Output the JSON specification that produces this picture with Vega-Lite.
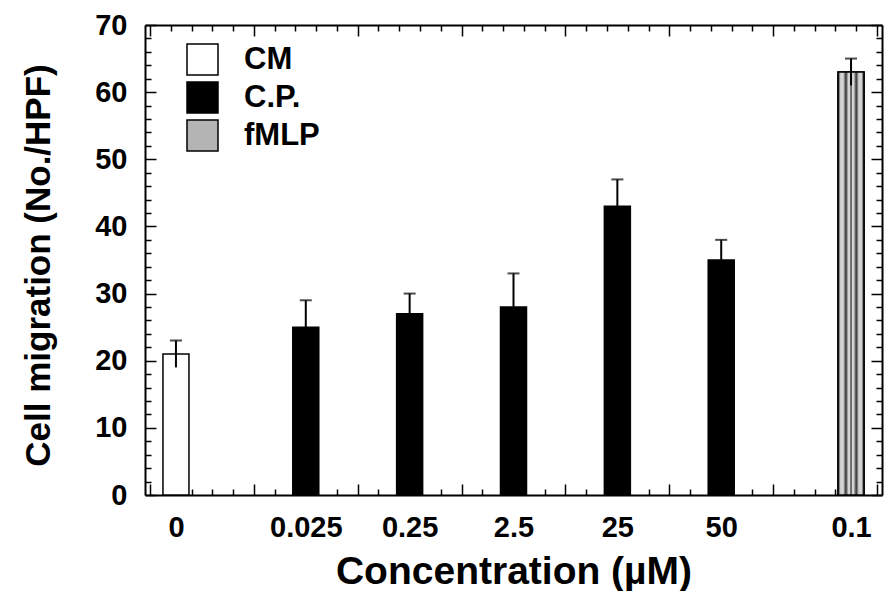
{
  "$schema": "https://vega.github.io/schema/vega-lite/v6.json",
  "width": 737,
  "height": 470,
  "autosize": {"type": "none"},
  "padding": {"left": 145, "top": 25, "right": 4, "bottom": 96},
  "background": "white",
  "config": {"view": {"stroke": null}, "font": "Liberation Sans"},
  "data": {
    "values": [
      {"conc": "0", "pos": 0.25, "group": "CM", "value": 21, "lo": 19, "hi": 23},
      {"conc": "0.025", "pos": 1.5, "group": "C.P.", "value": 25, "lo": 21, "hi": 29},
      {"conc": "0.25", "pos": 2.5, "group": "C.P.", "value": 27, "lo": 24, "hi": 30},
      {"conc": "2.5", "pos": 3.5, "group": "C.P.", "value": 28, "lo": 23, "hi": 33},
      {"conc": "25", "pos": 4.5, "group": "C.P.", "value": 43, "lo": 39, "hi": 47},
      {"conc": "50", "pos": 5.5, "group": "C.P.", "value": 35, "lo": 32, "hi": 38},
      {"conc": "0.1", "pos": 6.75, "group": "fMLP", "value": 63, "lo": 61, "hi": 65}
    ]
  },
  "layer": [
    {
      "mark": {"type": "bar", "orient": "vertical", "width": 26, "stroke": "black", "strokeWidth": 1.5},
      "encoding": {
        "x": {
          "field": "pos", "type": "quantitative",
          "scale": {"domain": [0, 7], "nice": false, "zero": false},
          "axis": {
            "orient": "bottom",
            "values": [0,0.2,0.4,0.6,0.8,1,1.2,1.4,1.6,1.8,2,2.2,2.4,2.6,2.8,3,3.2,3.4,3.6,3.8,4,4.2,4.4,4.6,4.8,5,5.2,5.4,5.6,5.8,6,6.2,6.4,6.6,6.8,7,0.25,1.5,2.5,3.5,4.5,5.5,6.75],
            "labelExpr": "datum.value === 0.25 ? '0' : datum.value === 1.5 ? '0.025' : datum.value === 2.5 ? '0.25' : datum.value === 3.5 ? '2.5' : datum.value === 4.5 ? '25' : datum.value === 5.5 ? '50' : datum.value === 6.75 ? '0.1' : ''",
            "tickSize": {"condition": [{"test": "datum.value % 1 === 0", "value": -11}, {"test": "datum.value === 0.25 || datum.value === 6.75 || datum.value % 1 === 0.5", "value": 0}], "value": -6},
            "tickWidth": 1.5, "tickColor": "black",
            "domainColor": "black", "domainWidth": 2,
            "labelFont": "Liberation Sans", "labelFontSize": 29, "labelFontWeight": "bold", "labelColor": "black",
            "labelPadding": 18, "labelOverlap": false, "labelFlush": false, "labelBound": false,
            "title": "Concentration (µM)", "titleFont": "Liberation Sans", "titleFontSize": 39, "titleFontWeight": "bold", "titleColor": "black", "titlePadding": 10,
            "grid": false
          }
        },
        "y": {
          "field": "value", "type": "quantitative",
          "scale": {"domain": [0, 70], "nice": false},
          "axis": {
            "orient": "left",
            "values": [0,2,4,6,8,10,12,14,16,18,20,22,24,26,28,30,32,34,36,38,40,42,44,46,48,50,52,54,56,58,60,62,64,66,68,70],
            "labelExpr": "datum.value % 10 === 0 ? datum.label : ''",
            "tickSize": {"condition": {"test": "datum.value % 10 === 0", "value": -11}, "value": -6},
            "tickWidth": 1.5, "tickColor": "black",
            "domainColor": "black", "domainWidth": 2,
            "labelFont": "Liberation Sans", "labelFontSize": 29, "labelFontWeight": "bold", "labelColor": "black",
            "labelPadding": 29, "labelOverlap": false, "labelFlush": false, "labelBound": false,
            "title": "Cell migration (No./HPF)", "titleFont": "Liberation Sans", "titleFontSize": 35, "titleFontWeight": "bold", "titleColor": "black",
            "titleX": -89, "titleY": 240,
            "grid": false
          }
        },
        "fill": {
          "field": "group", "type": "nominal",
          "scale": {"domain": ["CM", "C.P.", "fMLP"], "range": ["white", "black", "#b4b4b4"]},
          "legend": {
            "title": null, "orient": "none", "legendX": 41, "legendY": 18,
            "symbolType": "square", "symbolSize": 961, "symbolStrokeColor": "black", "symbolStrokeWidth": 1.5,
            "labelFont": "Liberation Sans", "labelFontSize": 31, "labelFontWeight": "bold", "labelColor": "black",
            "rowPadding": 1, "labelOffset": 25, "symbolOffset": 0, "padding": 0
          }
        }
      }
    },
    {
      "transform": [{"filter": "datum.group === 'fMLP'"}],
      "mark": {
        "type": "bar", "orient": "vertical", "width": 26, "stroke": "black", "strokeWidth": 1.5,
        "fill": {
          "gradient": "linear", "x1": 0, "y1": 0, "x2": 1, "y2": 0,
          "stops": [
            {"offset": 0, "color": "#222222"},
            {"offset": 0.1, "color": "#d4d4d4"},
            {"offset": 0.2, "color": "#d4d4d4"},
            {"offset": 0.3, "color": "#333333"},
            {"offset": 0.4, "color": "#d4d4d4"},
            {"offset": 0.45, "color": "#d4d4d4"},
            {"offset": 0.5, "color": "#333333"},
            {"offset": 0.55, "color": "#d4d4d4"},
            {"offset": 0.6, "color": "#d4d4d4"},
            {"offset": 0.7, "color": "#333333"},
            {"offset": 0.8, "color": "#d4d4d4"},
            {"offset": 0.9, "color": "#d4d4d4"},
            {"offset": 1, "color": "#222222"}
          ]
        }
      },
      "encoding": {
        "x": {
          "field": "pos", "type": "quantitative",
          "axis": {
            "orient": "top",
            "values": [0,0.2,0.4,0.6,0.8,1,1.2,1.4,1.6,1.8,2,2.2,2.4,2.6,2.8,3,3.2,3.4,3.6,3.8,4,4.2,4.4,4.6,4.8,5,5.2,5.4,5.6,5.8,6,6.2,6.4,6.6,6.8,7],
            "labels": false,
            "tickSize": {"condition": {"test": "datum.value % 1 === 0", "value": -11}, "value": -6},
            "tickWidth": 1.5, "tickColor": "black",
            "domainColor": "black", "domainWidth": 2,
            "title": null, "grid": false
          }
        },
        "y": {
          "field": "value", "type": "quantitative",
          "axis": {
            "orient": "right",
            "values": [0,2,4,6,8,10,12,14,16,18,20,22,24,26,28,30,32,34,36,38,40,42,44,46,48,50,52,54,56,58,60,62,64,66,68,70],
            "labels": false,
            "tickSize": {"condition": {"test": "datum.value % 10 === 0", "value": -11}, "value": -6},
            "tickWidth": 1.5, "tickColor": "black",
            "domainColor": "black", "domainWidth": 2,
            "title": null, "grid": false
          }
        }
      }
    },
    {
      "mark": {"type": "rule", "strokeWidth": 2, "color": "black"},
      "encoding": {
        "x": {"field": "pos", "type": "quantitative", "axis": null},
        "y": {"field": "lo", "type": "quantitative", "axis": null},
        "y2": {"field": "hi"}
      }
    },
    {
      "mark": {"type": "tick", "orient": "horizontal", "size": 12, "thickness": 2, "color": "black"},
      "encoding": {
        "x": {"field": "pos", "type": "quantitative", "axis": null},
        "y": {"field": "hi", "type": "quantitative", "axis": null}
      }
    }
  ],
  "resolve": {"axis": {"x": "independent", "y": "independent"}}
}
